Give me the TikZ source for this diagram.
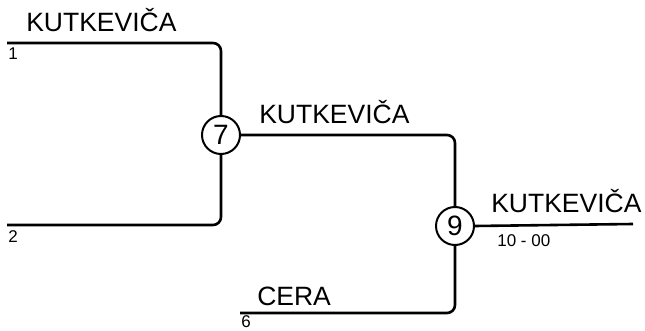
\documentclass[tikz,border=0pt]{standalone}
\usepackage{fontspec}
\setmainfont{Liberation Sans}
\usetikzlibrary{positioning}

\begin{document}
\begin{tikzpicture}[x=1pt, y=-1pt, line width=2.6pt, rounded corners=8pt,
    match/.style={circle, draw, line width=2pt, minimum size=38pt, inner sep=0pt, font=\fontsize{28}{28}\selectfont},
    team/.style={anchor=base west, inner sep=0pt, font=\fontsize{26.5}{26.5}\selectfont},
    seed/.style={anchor=north west, inner sep=0pt, font=\fontsize{17}{17}\selectfont}]
    \useasboundingbox (0,0) rectangle (645,331);

    % matches
    \node[match] (m7) at (221,135) {7};
    \node[match] (m9) at (455,226) {9};

    % line ends
    \coordinate (e1) at (7,43);
    \coordinate (e2) at (7,225);
    \coordinate (e6) at (240,313);
    \coordinate (e9) at (633,224);

    % texts
    \node[team] (t1) at (25,32) {KUTKEVIČA};
    \node[seed] (s1) at (7,47) {1};
    \node[seed] (s2) at (7,229.5) {2};
    \node[team] (t7) at (258,124) {KUTKEVIČA};
    \node[team] (t9) at (490,213) {KUTKEVIČA};
    \node[seed] (r9) at (496,233.5) {10 - 00};
    \node[team] (t6) at (256,305) {CERA};
    \node[seed, anchor=base west] (s6) at (240,327.5) {6};

    % bracket
    \draw (e1) -| (m7.north);
    \draw (e2) -| (m7.south);
    \draw (m7.east) -| (m9.north);
    \draw (e6) -| (m9.south);
    \draw (m9.east) -- (e9);
\end{tikzpicture}
\end{document}
